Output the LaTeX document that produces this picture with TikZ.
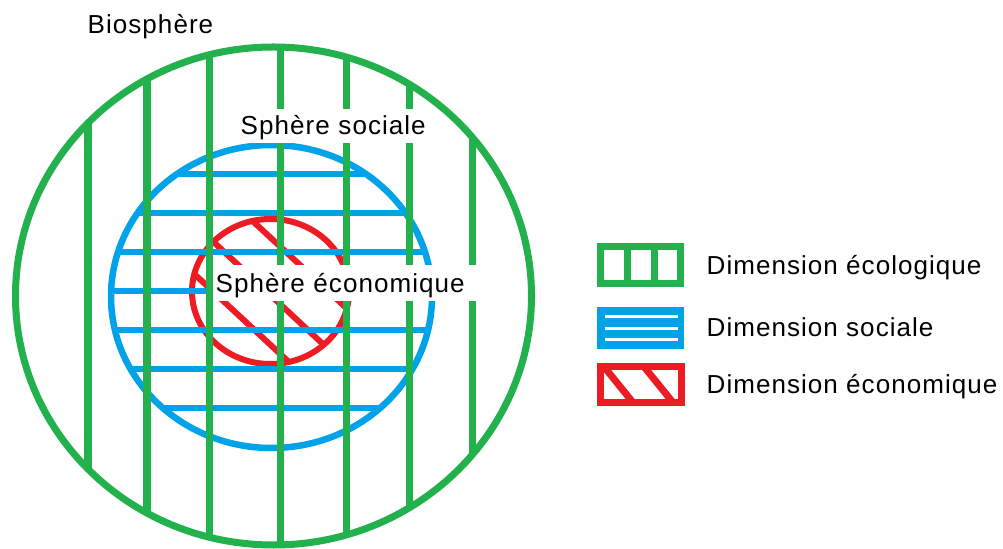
\documentclass[tikz,border=0pt]{standalone}
\usepackage{fontspec}
\setmainfont{Liberation Sans}[LetterSpace=4]
\definecolor{ecol}{RGB}{34,177,76}
\definecolor{soci}{RGB}{0,162,232}
\definecolor{econ}{RGB}{237,28,36}
\begin{document}
\begin{tikzpicture}[x=0.01cm,y=-0.01cm,
  lbl/.style={font=\fontsize{7.4pt}{9pt}\selectfont, text height=0.18cm, text depth=0cm, inner sep=0pt},
  gline/.style={draw=ecol, line width=0.07cm},
  bline/.style={draw=soci, line width=0.065cm},
  rline/.style={draw=econ, line width=0.06cm},
  whitebg/.style={lbl, fill=white, anchor=west, align=left, inner ysep=0pt}
  ]
\useasboundingbox (0,0) rectangle (1003,549);

% economic sphere (red)
\begin{scope}
  \clip (270.5,291.5) ellipse [x radius=78.5, y radius=72.5];
  \draw[rline] (230,200) -- (370,330);
  \draw[rline] (190,220) -- (340,360);
  \draw[rline] (190,270) -- (320,391);
\end{scope}
\draw[rline] (270.5,291.5) ellipse [x radius=78.5, y radius=72.5];

% social sphere (blue)
\begin{scope}
  \clip (271.5,296.5) ellipse [x radius=160.5, y radius=151.5];
  \foreach \yy in {174,213,252,291,330,369,408}
    \draw[bline] (100,\yy) -- (450,\yy);
\end{scope}
\draw[bline] (271.5,296.5) ellipse [x radius=160.5, y radius=151.5];

% biosphere (green)
\begin{scope}
  \clip (273.5,296) ellipse [x radius=258, y radius=249];
  \foreach \xx in {88,147,209,280,346,409,472}
    \draw[gline] (\xx,0) -- (\xx,560);
\end{scope}
\draw[gline] (273.5,296) ellipse [x radius=258, y radius=249];

% labels
\node (bio) [lbl, anchor=west] at (87,25) {Biosphère};
\node (soc) [whitebg, inner xsep=0.08cm, text width=1.85cm, minimum height=0.33cm] at (232,126) {Sphère sociale};
\node (eco) [whitebg, inner xsep=0.03cm, text width=2.58cm, minimum height=0.36cm] at (212,283) {Sphère économique};

% legend: ecological
\node (legE) [draw=ecol, line width=0.07cm, minimum width=0.80cm, minimum height=0.37cm, inner sep=0pt] at (640.5,265) {};
\draw[gline] (627,246.5) -- (627,283.5);
\draw[gline] (654,246.5) -- (654,283.5);
\node (tE) [lbl, anchor=west] at (706,265) {Dimension écologique};

% legend: social
\node (legS) [fill=soci, minimum width=0.87cm, minimum height=0.42cm, inner sep=0pt] at (640.5,328) {};
\foreach \yy in {316.5,328.3,339.5}
  \draw[white, line width=0.035cm] (605,\yy) -- (678,\yy);
\node (tS) [lbl, anchor=west] at (706,327) {Dimension sociale};

% legend: economic
\begin{scope}
  \clip (600.5,366.5) rectangle (681.5,402.5);
  \draw[econ, line width=0.07cm] (598,359.25) -- (640,411.2);
  \draw[econ, line width=0.07cm] (638,359.25) -- (680,411.2);
\end{scope}
\node (legC) [draw=econ, line width=0.07cm, minimum width=0.81cm, minimum height=0.36cm, inner sep=0pt] at (641,384.5) {};
\node (tC) [lbl, anchor=west] at (706,384) {Dimension économique};
\end{tikzpicture}
\end{document}
